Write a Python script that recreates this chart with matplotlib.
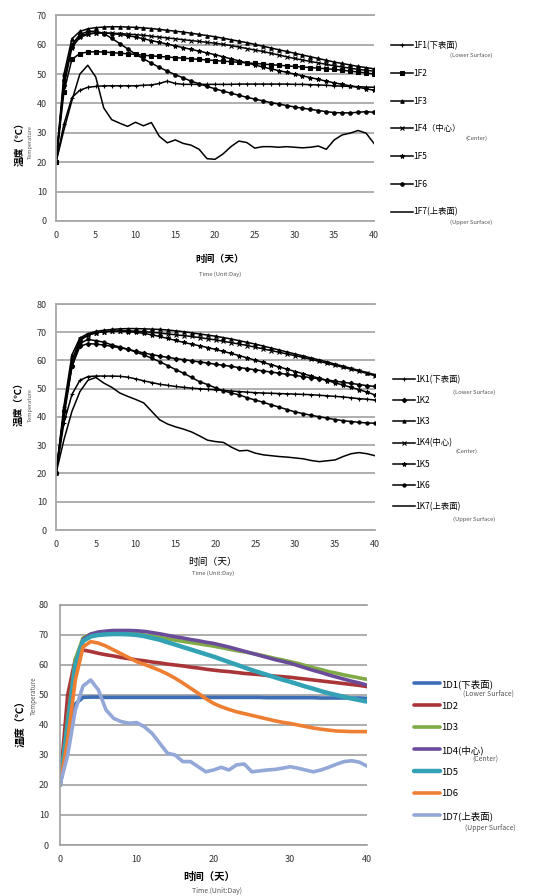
import matplotlib
matplotlib.use("Agg")
import matplotlib.pyplot as plt

plt.rcParams['font.family'] = ['Noto Sans CJK SC', 'DejaVu Sans']

days = list(range(0, 41))

# ---------------- Panel 1 (1F) ----------------
f_labels = ["1F1(下表面)", "1F2", "1F3", "1F4（中心）", "1F5", "1F6", "1F7(上表面)"]
f1 = [20, 33, 42, 44.5, 45.5, 45.8, 46, 46, 46, 46, 46, 46.2, 46.3, 46.8, 47.6, 46.8, 46.5, 46.5, 46.5, 46.5, 46.5,
      46.5, 46.5, 46.6, 46.6, 46.6, 46.6, 46.6, 46.6, 46.6, 46.5, 46.5, 46.4, 46.3, 46.2, 46, 45.9, 45.8, 45.7, 45.6, 45.5]
f2 = [20, 44, 55, 57, 57.5, 57.6, 57.5, 57.3, 57.1, 56.9, 56.7, 56.4, 56.2, 56, 55.8, 55.6, 55.4, 55.2, 55, 54.8, 54.6,
      54.4, 54.2, 54, 53.8, 53.6, 53.4, 53.2, 53, 52.8, 52.6, 52.4, 52.2, 52, 51.8, 51.6, 51.3, 51, 50.7, 50.4, 50]
f3 = [20, 50, 62, 64.5, 65.4, 65.8, 66, 66.1, 66.1, 66, 65.9, 65.7, 65.5, 65.2, 64.9, 64.6, 64.3, 63.9, 63.5, 63.1, 62.7,
      62.2, 61.7, 61.2, 60.7, 60.1, 59.5, 58.9, 58.3, 57.7, 57.1, 56.5, 55.9, 55.3, 54.7, 54.1, 53.6, 53.1, 52.6, 52.2, 51.8]
f4 = [20, 47, 60, 63, 63.8, 64, 64, 63.9, 63.8, 63.6, 63.4, 63.2, 62.9, 62.6, 62.3, 62, 61.7, 61.4, 61.1, 60.8, 60.5,
      60.1, 59.7, 59.2, 58.7, 58.2, 57.7, 57.1, 56.5, 55.9, 55.3, 54.8, 54.3, 53.8, 53.3, 52.8, 52.4, 52, 51.6, 51.3, 51]
f5 = [20, 46, 59, 62.5, 63.5, 64, 64, 63.8, 63.5, 63.1, 62.6, 62, 61.4, 60.8, 60.2, 59.6, 59, 58.4, 57.8, 57.2, 56.6,
      55.9, 55.2, 54.5, 53.8, 53.1, 52.4, 51.8, 51.2, 50.6, 50, 49.4, 48.8, 48.2, 47.6, 47, 46.5, 46, 45.5, 45, 44.5]
f6 = [20, 48, 60, 63.5, 64.5, 64.6, 63.8, 62.2, 60.4, 58.6, 56.8, 55.2, 53.7, 52.3, 51, 49.8, 48.7, 47.6, 46.7, 45.8, 45,
      44.2, 43.5, 42.8, 42.1, 41.5, 40.9, 40.3, 39.8, 39.3, 38.8, 38.4, 38, 37.6, 37.2, 36.9, 36.8, 36.8, 37, 37.2, 37]
f7 = [20, 31, 41, 50, 53, 49, 38.5, 34.5, 33.3, 32.2, 33.6, 32.4, 33.5, 28.8, 26.6, 27.6, 26.4, 25.8, 24.4, 21.2, 21,
      22.8, 25.3, 27.2, 26.7, 24.8, 25.3, 25.3, 25.1, 25.3, 25.1, 24.9, 25.1, 25.5, 24.4, 27.6, 29.3, 29.9, 30.8, 29.9, 26.4]
f_series = [f1, f2, f3, f4, f5, f6, f7]

# ---------------- Panel 2 (1K) ----------------
k_labels = ["1K1(下表面)", "1K2", "1K3", "1K4(中心)", "1K5", "1K6", "1K7(上表面)"]
k1 = [20, 38, 48, 53, 54.3, 54.5, 54.5, 54.5, 54.4, 54.1, 53.5, 52.8, 52.2, 51.6, 51.2, 50.8, 50.5, 50.2, 50, 49.8, 49.6,
      49.4, 49.2, 49, 48.8, 48.6, 48.5, 48.4, 48.3, 48.2, 48.1, 48, 47.9, 47.7, 47.5, 47.3, 47.1, 46.8, 46.5, 46.3, 46]
k2 = [20, 42, 58, 65, 66, 65.8, 65.5, 65, 64.5, 64, 63.3, 62.7, 62.1, 61.6, 61.1, 60.7, 60.3, 59.9, 59.5, 59.1, 58.7,
      58.3, 57.9, 57.5, 57.1, 56.7, 56.3, 55.9, 55.5, 55.1, 54.7, 54.3, 53.9, 53.5, 53.1, 52.7, 52.3, 51.9, 51.5, 51.1, 50.8]
k3 = [20, 44, 62, 68, 69.5, 70.3, 70.7, 71, 71.2, 71.3, 71.3, 71.2, 71.1, 71, 70.8, 70.5, 70.2, 69.8, 69.4, 69, 68.6,
      68.1, 67.6, 67, 66.4, 65.8, 65.1, 64.4, 63.7, 63, 62.3, 61.6, 60.9, 60.2, 59.5, 58.7, 58, 57.2, 56.5, 55.7, 55]
k4 = [20, 42, 60, 67.5, 69, 69.8, 70.2, 70.4, 70.5, 70.5, 70.4, 70.2, 70, 69.7, 69.4, 69.1, 68.8, 68.5, 68.1, 67.7, 67.3,
      66.8, 66.3, 65.8, 65.3, 64.7, 64.1, 63.5, 62.9, 62.3, 61.7, 61.1, 60.4, 59.7, 59, 58.3, 57.6, 56.9, 56.2, 55.4, 54.6]
k5 = [20, 40, 58, 67, 69, 69.8, 70.2, 70.3, 70.3, 70.2, 70, 69.6, 69.1, 68.5, 67.8, 67.1, 66.4, 65.8, 65.2, 64.6, 63.9,
      63.2, 62.5, 61.7, 60.9, 60.1, 59.3, 58.5, 57.7, 56.9, 56.1, 55.3, 54.5, 53.7, 52.9, 52.1, 51.3, 50.5, 49.7, 48.8, 47.8]
k6 = [20, 42, 58, 66, 67.5, 67, 66.5, 65.5, 64.8, 64, 63, 62, 60.8, 59.6, 58.2, 56.8, 55.5, 54, 52.5, 51.5, 50.3,
      49.3, 48.5, 47.8, 46.8, 46, 45.2, 44.3, 43.5, 42.6, 41.8, 41.2, 40.6, 40.1, 39.6, 39.1, 38.7, 38.4, 38.1, 37.9, 37.8]
k7 = [20, 32, 42, 49, 53, 54, 52, 50.5, 48.5, 47.3, 46.2, 45, 42, 39, 37.5, 36.5, 35.7, 34.7, 33.3, 31.8, 31.3,
      31, 29.3, 28, 28.2, 27.2, 26.6, 26.3, 26, 25.8, 25.5, 25.2, 24.6, 24.2, 24.5, 24.8, 26, 27, 27.4, 27, 26.3]
k_series = [k1, k2, k3, k4, k5, k6, k7]

# ---------------- Panel 3 (1D) ----------------
d_labels = ["1D1(下表面)", "1D2", "1D3", "1D4(中心)", "1D5", "1D6", "1D7(上表面)"]
d1 = [20, 38, 47, 49.2, 49.3, 49.3, 49.2, 49.2, 49.2, 49.2, 49.2, 49.2, 49.2, 49.2, 49.2, 49.2, 49.2, 49.2, 49.2, 49.2, 49.2,
      49.2, 49.2, 49.2, 49.2, 49.2, 49.2, 49.1, 49.1, 49.1, 49.1, 49.1, 49.1, 49.1, 49.0, 49.0, 49.0, 49.0, 49.0, 49.0, 48.9]
d2 = [20, 50, 62, 65, 64.5, 63.9, 63.4, 63, 62.5, 62.1, 61.7, 61.4, 61, 60.7, 60.3, 60, 59.7, 59.3, 59, 58.6, 58.3,
      58, 57.8, 57.5, 57.2, 57, 56.8, 56.5, 56.3, 56.1, 55.9, 55.6, 55.3, 55, 54.7, 54.4, 54.1, 53.8, 53.5, 53.2, 52.8]
d3 = [20, 42, 62, 69, 70.3, 70.8, 71, 71, 70.9, 70.7, 70.4, 70, 69.6, 69.2, 68.8, 68.3, 67.9, 67.5, 67.1, 66.7, 66.3,
      65.8, 65.3, 64.8, 64.4, 63.9, 63.4, 62.8, 62.2, 61.7, 61.1, 60.5, 59.8, 59.1, 58.5, 57.8, 57.3, 56.7, 56.2, 55.7, 55.2]
d4 = [20, 40, 60, 68.5, 70.3, 71, 71.3, 71.5, 71.5, 71.5, 71.4, 71.2, 70.8, 70.4, 69.9, 69.4, 69, 68.5, 68.1, 67.6, 67.2,
      66.6, 66, 65.3, 64.6, 63.9, 63.2, 62.5, 61.8, 61.2, 60.6, 59.8, 59, 58.2, 57.5, 56.7, 56, 55.3, 54.6, 54, 53.3]
d5 = [20, 40, 60, 68, 69.5, 70, 70.2, 70.3, 70.3, 70.2, 70, 69.6, 69, 68.4, 67.6, 66.8, 66, 65.2, 64.4, 63.6, 62.8,
      61.9, 61, 60.1, 59.2, 58.3, 57.5, 56.7, 55.9, 55.1, 54.4, 53.6, 52.8, 52.1, 51.3, 50.6, 50, 49.4, 48.8, 48.3, 47.8]
d6 = [20, 35, 55, 66, 67.8, 67.3, 66.3, 65, 63.7, 62.4, 61.1, 60.2, 59.2, 58.2, 57, 55.6, 54, 52.3, 50.6, 48.8, 47.2,
      46.1, 45.2, 44.4, 43.8, 43.2, 42.6, 42, 41.4, 40.9, 40.5, 40, 39.5, 39, 38.6, 38.3, 38, 37.9, 37.8, 37.8, 37.8]
d7 = [20, 30, 45, 53, 55, 51.7, 45, 42.2, 41.1, 40.6, 40.8, 39.4, 37.2, 33.9, 30.6, 30, 27.8, 27.8, 26.1, 24.4, 25,
      25.9, 25, 26.7, 27, 24.4, 24.7, 25, 25.2, 25.6, 26.1, 25.6, 25, 24.4, 25, 25.9, 26.9, 27.8, 28.1, 27.6, 26.3]
d_series = [d1, d2, d3, d4, d5, d6, d7]
d_colors = ["#3D6DB5", "#A93539", "#7FAA45", "#6B4C9A", "#33A2B4", "#EE7F32", "#93A7D8"]

markers = ['+', 's', '^', 'x', '*', 'o', '']

W, H = 546, 896
fig = plt.figure(figsize=(W / 100, H / 100), dpi=100)


def fx(px):
    return px / W


def fy(py):
    return 1 - py / H


def axes_px(left, right, top, bottom):
    return fig.add_axes([fx(left), fy(bottom), (right - left) / W, (bottom - top) / H])


def style(ax, ymax, xticks, gridc='#a8a8a8', lw=1.3, ypad=6.5):
    ax.set_xlim(0, 40)
    ax.set_ylim(0, ymax)
    ax.set_yticks(range(0, ymax + 1, 10))
    ax.set_xticks(xticks)
    ax.grid(axis='y', color=gridc, lw=lw)
    ax.set_axisbelow(True)
    ax.spines['right'].set_visible(False)
    for s in ['top', 'bottom', 'left']:
        ax.spines[s].set_color(gridc)
        ax.spines[s].set_linewidth(lw)
    ax.tick_params(axis='both', length=0, labelsize=6.5, colors='#333333')
    ax.tick_params(axis='y', pad=ypad)
    ax.tick_params(axis='x', pad=7)


def sub(px, py, s, size=4.2, ha='left'):
    fig.text(fx(px), fy(py), s, fontsize=size, color='#555555', ha=ha, va='center')


# ---- Panel 1
ax1 = axes_px(56, 374, 15.3, 221)
lines1 = []
for ys, m in zip(f_series, markers):
    ms = 2.5 if m not in ('', '*') else 3.2
    l, = ax1.plot(days, ys, color='black', lw=1.1, marker=m if m else None, ms=ms, mew=0.8)
    lines1.append(l)
style(ax1, 70, range(0, 41, 5))
leg1 = ax1.legend(lines1, f_labels, loc='upper left', bbox_to_anchor=(fx(391), fy(41)),
                  bbox_transform=fig.transFigure, frameon=False, fontsize=6, handlelength=2.6,
                  handletextpad=0.1, labelspacing=2.25, borderpad=0, borderaxespad=0, numpoints=1)
sub(450, 55, "(Lower Surface)")
sub(466, 138, "(Center)")
sub(450, 222, "(Upper Surface)")
fig.text(fx(220), fy(259), "时间（天）", fontsize=7, fontweight='bold', ha='center', va='center')
fig.text(fx(220), fy(274), "Time (Unit:Day)", fontsize=4.2, color='#555555', ha='center', va='center')
fig.text(fx(20), fy(142), "温度（℃）", fontsize=7, fontweight='bold', ha='center', va='center', rotation=90)
fig.text(fx(30), fy(142), "Temperature", fontsize=4, color='#555555', ha='center', va='center', rotation=90)

# ---- Panel 2
ax2 = axes_px(56, 375, 304, 530)
lines2 = []
k_markers = ['+', 'D', '^', 'x', '*', 'o', '']
for ys, m in zip(k_series, k_markers):
    ms = 2.3 if m not in ('', '*') else 3.2
    l, = ax2.plot(days, ys, color='black', lw=1.1, marker=m if m else None, ms=ms, mew=0.8)
    lines2.append(l)
style(ax2, 80, range(0, 41, 5))
ax2.legend(lines2, k_labels, loc='upper left', bbox_to_anchor=(fx(393), fy(375)),
           bbox_transform=fig.transFigure, frameon=False, fontsize=6, handlelength=2.6,
           handletextpad=0.1, labelspacing=1.45, borderpad=0, borderaxespad=0, numpoints=1)
sub(453, 392, "(Lower Surface)")
sub(455, 451, "(Center)")
sub(453, 519, "(Upper Surface)")
fig.text(fx(213), fy(562), "时间（天）", fontsize=7, ha='center', va='center')
fig.text(fx(213), fy(573), "Time (Unit:Day)", fontsize=4.2, color='#555555', ha='center', va='center')
fig.text(fx(19), fy(402), "温度（℃）", fontsize=7, fontweight='bold', ha='center', va='center', rotation=90)
fig.text(fx(30), fy(405), "Temperature", fontsize=4, color='#555555', ha='center', va='center', rotation=90)

# ---- Panel 3
ax3 = axes_px(60, 367, 605, 845)
lines3 = []
for i, (ys, c) in enumerate(zip(d_series, d_colors)):
    lw = 3.2 if i == 4 else 2.6
    l, = ax3.plot(days, ys, color=c, lw=lw, solid_capstyle='round')
    lines3.append(l)
style(ax3, 80, range(0, 41, 10), gridc='#a0a0a0', lw=1.2, ypad=8)
ax3.legend(lines3, d_labels, loc='upper left', bbox_to_anchor=(fx(414), fy(679)),
           bbox_transform=fig.transFigure, frameon=False, fontsize=6.8, handlelength=2.8,
           handletextpad=0.05, labelspacing=1.35, borderpad=0, borderaxespad=0)
sub(463, 694, "(Lower Surface)", size=5)
sub(472, 760, "(Center)", size=5)
sub(465, 828, "(Upper Surface)", size=5)
fig.text(fx(209), fy(877), "时间（天）", fontsize=7.5, fontweight='bold', ha='center', va='center')
fig.text(fx(217), fy(891), "Time (Unit:Day)", fontsize=5, color='#555555', ha='center', va='center')
fig.text(fx(22), fy(721), "温度（℃）", fontsize=7.5, fontweight='bold', ha='center', va='center', rotation=90)
fig.text(fx(34), fy(696), "Temperature", fontsize=4.5, color='#555555', ha='center', va='center', rotation=90)

fig.savefig("out.png", dpi=100, facecolor='white')
